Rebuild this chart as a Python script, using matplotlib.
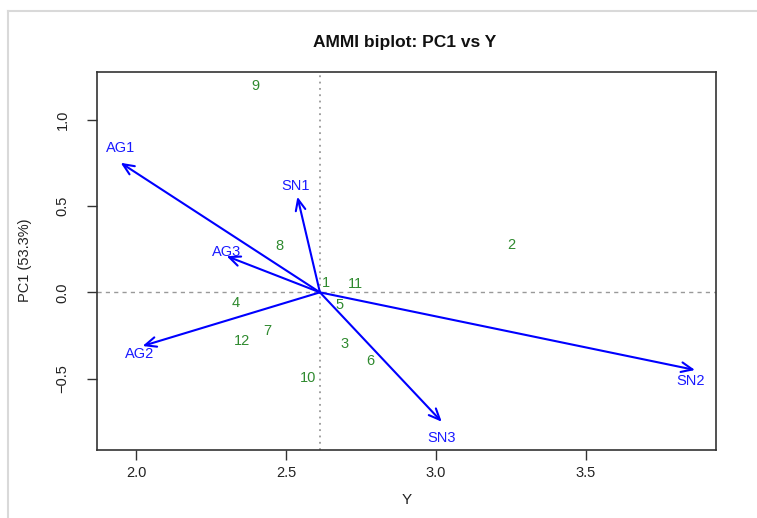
import matplotlib
matplotlib.use("Agg")
import matplotlib.pyplot as plt
from matplotlib.lines import Line2D

plt.rcParams["font.family"] = ["Liberation Sans", "DejaVu Sans"]

# Genotype scores (mean yield Y, PC1)
genotypes = ["1", "2", "3", "4", "5", "6", "7", "8", "9", "10", "11", "12"]
geno_y = [2.632, 3.250, 2.694, 2.332, 2.680, 2.780, 2.439, 2.478, 2.399, 2.574, 2.732, 2.353]
geno_pc1 = [0.056, 0.274, -0.300, -0.064, -0.074, -0.398, -0.222, 0.270, 1.198, -0.495, 0.048, -0.282]

# Environment vectors (tips), drawn from the grand mean
environments = ["AG1", "SN1", "AG3", "AG2", "SN3", "SN2"]
env_y = [1.949, 2.538, 2.302, 2.022, 3.019, 3.863]
env_pc1 = [0.751, 0.554, 0.210, -0.311, -0.750, -0.450]
grand_mean = 2.613

# Label offsets (points) for environment names
env_label_offset = {"AG1": (0, 11), "SN1": (-1, 8), "AG3": (0, 3),
                    "AG2": (-2, -6), "SN3": (0, -12), "SN2": (-3, -8)}

fig = plt.figure(figsize=(7.57, 5.18), dpi=100)
ax = fig.add_axes([0.1285, 0.1322, 0.9458 - 0.1285, 0.8616 - 0.1322])

ax.set_xlim(1.871, 3.933)
ax.set_ylim(-0.911, 1.279)

ax.axvline(grand_mean, color="#999999", lw=1.3, ls=(0, (1, 2.5)), zorder=1)
ax.axhline(0, color="#999999", lw=1.0, ls=(0, (3, 3)), zorder=1)

green = "#2f8a2f"
blue = "#1a1aff"
for g, x, y in zip(genotypes, geno_y, geno_pc1):
    ax.text(x, y, g, color=green, fontsize=10.5, ha="center", va="center", zorder=3)

for e, x, y in zip(environments, env_y, env_pc1):
    ax.annotate("", xy=(x, y), xytext=(grand_mean, 0),
                arrowprops=dict(arrowstyle="->,head_length=0.8,head_width=0.35",
                                color="#0000ff", lw=1.5, shrinkA=0, shrinkB=0),
                zorder=2)
    dx, dy = env_label_offset[e]
    ax.annotate(e, xy=(x, y), xytext=(dx, dy), textcoords="offset points",
                color=blue, fontsize=10.5, ha="center", va="center", zorder=3)

ax.set_xticks([2.0, 2.5, 3.0, 3.5])
ax.set_xticklabels(["2.0", "2.5", "3.0", "3.5"])
ax.set_yticks([-0.5, 0.0, 0.5, 1.0])
ax.set_yticklabels(["\u22120.5", "0.0", "0.5", "1.0"], rotation=90, va="center")
ax.tick_params(direction="out", length=7, width=1, colors="#333333",
               labelsize=10.5, pad=5, labelcolor="#222222")
ax.tick_params(axis="y", pad=13)
for s in ax.spines.values():
    s.set_color("#333333")
    s.set_linewidth(1.2)

ax.set_xlabel("Y", fontsize=11, color="#222222", va="center")
ax.xaxis.set_label_coords(0.5, -0.134)
ax.set_ylabel("PC1 (53.3%)", fontsize=10.5, color="#222222", va="center")
ax.yaxis.set_label_coords(-0.117, 0.5)
fig.text(405 / 757, 1 - 42 / 518, "AMMI biplot: PC1 vs Y", ha="center", va="center",
         fontsize=12.5, fontweight="bold", color="#111111")

# light frame along top and left edges
fig.add_artist(Line2D([8 / 757, 8 / 757], [0, 1 - 10.5 / 518], transform=fig.transFigure,
                      color="#d9d9d9", lw=1.5))
fig.add_artist(Line2D([8 / 757, 1], [1 - 10.5 / 518, 1 - 10.5 / 518], transform=fig.transFigure,
                      color="#d9d9d9", lw=1.5))

fig.savefig("out.png", dpi=100)
